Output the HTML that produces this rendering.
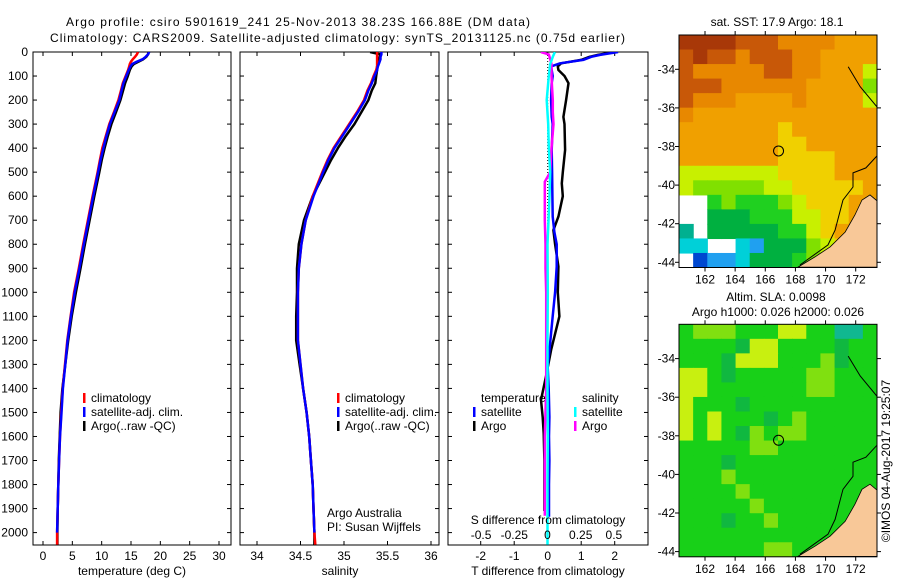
<!DOCTYPE html>
<html><head><meta charset="utf-8"><style>
html,body{margin:0;padding:0;background:#fff;}
svg{display:block;font-family:"Liberation Sans",sans-serif;font-size:12px;}
</style></head><body>
<svg id="fig" width="900" height="580" viewBox="0 0 900 580" xmlns="http://www.w3.org/2000/svg">
<text x="66" y="26" textLength="464">Argo profile: csiro 5901619_241 25-Nov-2013 38.23S 166.88E (DM data)</text>
<text x="50" y="42" textLength="575">Climatology: CARS2009. Satellite-adjusted climatology: synTS_20131125.nc (0.75d earlier)</text>
<g id="g"></g>
</svg>
<script>
// ---------- data ----------
const depthsProf = [0,10,20,30,40,50,60,75,100,130,160,200,250,300,350,400,450,500,600,700,800,900,1000,1100,1200,1300,1400,1500,1600,1700,1800,1900,2000,2050];
const tempClim = [16.2,16.0,15.7,15.3,15.0,14.8,14.7,14.5,14.1,13.6,13.3,12.85,12.1,11.3,10.7,10.1,9.7,9.3,8.45,7.65,6.85,6.1,5.3,4.7,4.15,3.75,3.35,3.1,2.9,2.75,2.6,2.5,2.4,2.4];
const tempSat = [18.1,17.9,17.5,17.0,16.0,15.2,14.9,14.6,14.2,13.7,13.4,13.0,12.2,11.4,10.8,10.3,9.8,9.4,8.55,7.75,6.95,6.2,5.4,4.75,4.2,3.8,3.4,3.15,2.9,2.75,2.6,2.5,2.4,2.4];
const tempArgo = [18.0,17.9,17.6,17.1,16.3,15.5,15.1,14.8,14.45,14.0,13.65,13.2,12.45,11.65,11.05,10.5,10.0,9.6,8.75,7.95,7.15,6.4,5.6,4.9,4.3,3.8,3.3,3.0,2.85,2.7,2.6,2.5,2.45,2.45];
const salClim = [35.38,35.38,35.38,35.38,35.38,35.38,35.38,35.37,35.34,35.31,35.27,35.23,35.15,35.06,34.97,34.88,34.81,34.75,34.64,34.56,34.51,34.48,34.47,34.47,34.47,34.5,34.53,34.57,34.6,34.62,34.64,34.65,34.66,34.67];
const salSat = [35.43,35.43,35.42,35.42,35.41,35.40,35.39,35.38,35.35,35.32,35.28,35.24,35.16,35.07,34.98,34.89,34.82,34.76,34.65,34.56,34.51,34.48,34.47,34.47,34.47,34.5,34.53,34.57,34.6,34.62,34.64,34.65,34.66,34.67];
const salArgo = [35.30,35.42,35.41,35.40,35.40,35.39,35.38,35.38,35.37,35.36,35.32,35.28,35.20,35.12,35.02,34.93,34.85,34.78,34.64,34.54,34.48,34.46,34.46,34.45,34.45,34.49,34.53,34.57,34.6,34.62,34.64,34.65,34.66,34.66];
const depthsTdSat = [0,12,20,33,47,60,100,130,200,270,300,408,500,600,685,750,800,893,1000,1100,1200,1310,1400,1518,1600,1700,1800,1934];
const tDiffSat = [2.1,1.56,1.3,1.06,0.37,0.1,0.15,0.12,0.1,0.12,0.15,0.12,0.13,0.14,0.15,0.2,0.27,0.27,0.22,0.15,0.08,0,0.03,0.05,0.04,0.05,0.04,0.04];
const depthsTdArgo = [0,12,20,33,47,60,75,100,130,200,270,300,408,500,547,600,685,741,800,893,1000,1100,1240,1350,1448,1520,1587,1700,1795,1910];
const tDiffArgo = [2.0,1.5,1.25,1.0,0.4,0.3,0.32,0.5,0.62,0.55,0.47,0.5,0.52,0.45,0.42,0.45,0.32,0.17,0.22,0.32,0.3,0.35,0.1,-0.05,-0.2,-0.15,-0.12,-0.1,-0.1,-0.1];
const depthsSdSat = [0,20,50,100,200,300,400,500,600,800,1000,1200,1400,1600,1800,2050];
const sDiffSat = [0.056,0.04,0.02,0.01,-0.006,0.005,0.01,0.02,0.015,0,0.002,0,0,0.002,0,0];
const depthsSdArgo = [0,10,30,50,100,150,200,250,300,400,500,540,600,700,800,900,1000,1200,1400,1600,1800,1930];
const sDiffArgo = [-0.05,0.01,0.02,0.03,0.03,0.035,0.04,0.04,0.045,0.03,0.02,-0.02,-0.02,-0.02,-0.015,-0.015,-0.01,-0.01,-0.01,-0.02,-0.02,-0.02];
const depthTicks = [0,100,200,300,400,500,600,700,800,900,1000,1100,1200,1300,1400,1500,1600,1700,1800,1900,2000];
const tempTicks = [0,5,10,15,20,25,30];
const salTicks = [34,34.5,35,35.5,36];
const tdTicks = [-2,-1,0,1,2];
const sdTicks = [-0.5,-0.25,0,0.25,0.5];
const sdTickLabels = ["-0.5","-0.25","0","0.25","0.5"];
const latTicks = [-34,-36,-38,-40,-42,-44];
const lonTicks = [162,164,166,168,170,172];
const argoLon = 166.88, argoLat = -38.23;
const sstPalette = {".":null,"1":"#0048d0","2":"#20a0f0","3":"#00d0d8","4":"#00b090","5":"#00b040","6":"#20d020","7":"#80e000","8":"#c8f000","9":"#f0d000","a":"#f0a000","b":"#e88800","c":"#c85808","d":"#a83808"};
const sstGrid = ["ddddcccbbbbaaa","cdccbcccbbaaaa","cbbbbbccbbaaa8","cccbbbbbbaaaa7","cbbbaaaabaaaa8","baaaaaaaaaaaaa","aaaaaaa9aaaaaa","aaaaaaa99aaaaa","aaaaaaa9999aaa","88888889999aaa","8777778899999a","..6766678999aa","..5556668899aa","4.555556689aaa","33..32555789a9",".12235556789.6"];
const slaPalette = {"4":"#10b890","5":"#10b840","6":"#18d018","7":"#80e010","8":"#c8f010"};
const slaGrid = ["67776668866446","66665886666566","66658886667566","88656666677666","88666666677666","86665666666666","86866656766666","86865767766666","66666776666666","66656666666666","66676666666666","66667666666666","66666766666666","66656676666666","66666666666666","66666677666666"];
const landLon = [168.17,169.3,170.3,171.3,171.95,172.42,172.95,173.5,173.5];
const landLat = [-44.25,-43.72,-43.2,-42.43,-41.55,-40.77,-40.51,-40.87,-44.25];
const coastLon = [173.41,172.68,171.82,171.82,171.16,170.63,170.16,168.3];
const coastLat = [-38.49,-39.11,-39.37,-40.1,-40.77,-42.33,-43.1,-44.14];
const neLon = [171.5,172.3,173.4];
const neLat = [-33.87,-34.9,-35.94];

// ---------- helpers ----------
const NS="http://www.w3.org/2000/svg";
const G=document.getElementById('g');
function mk(tag,attrs,parent){const e=document.createElementNS(NS,tag);for(const k in attrs)e.setAttribute(k,attrs[k]);(parent||G).appendChild(e);return e;}
function txt(x,y,s,anchor,parent){const e=mk('text',{x:x,y:y,'text-anchor':anchor||'start'},parent);e.textContent=s;return e;}
const yD=d=>52+d*0.2403;
const xT=t=>43+t*5.867;
const xS=s=>257+(s-34)*87;
const xTd=v=>547.7+v*33.5;
const xSd=v=>547.5+v*132.8;
const P1={l:33,r:231},P2={l:240,r:439},P3={l:448,r:648};
const TOP=52,BOT=545;

const defs=mk('defs',{});
[[P1,'c1'],[P2,'c2'],[P3,'c3']].forEach(([p,id])=>{const c=mk('clipPath',{id:id},defs);mk('rect',{x:p.l,y:TOP,width:p.r-p.l,height:BOT-TOP},c);});

function panelFrame(p,name){
  const r=mk('rect',{x:p.l,y:TOP,width:p.r-p.l,height:BOT-TOP,fill:'#fff',stroke:'#000','stroke-width':1});
  
  
  depthTicks.forEach(d=>{const y=yD(d);mk('line',{x1:p.l,x2:p.l+4,y1:y,y2:y,stroke:'#000'});mk('line',{x1:p.r-4,x2:p.r,y1:y,y2:y,stroke:'#000'});});
}
function xTicks(p,ticks,fx,labels,ly){
  ticks.forEach((t,i)=>{const x=fx(t);mk('line',{x1:x,x2:x,y1:TOP,y2:TOP+4,stroke:'#000'});mk('line',{x1:x,x2:x,y1:BOT-4,y2:BOT,stroke:'#000'});
    if(labels){const e=txt(x,ly,labels[i],'middle');}});
}
function line(ds,vs,fx,color,clip,name){
  const pts=ds.map((d,i)=>fx(vs[i]).toFixed(1)+','+yD(d).toFixed(1)).join(' ');
  const e=mk('polyline',{points:pts,fill:'none',stroke:color,'stroke-width':2.5,'clip-path':'url(#'+clip+')','stroke-linejoin':'round'});
  
  
}
function legendMark(x,y,color){mk('rect',{x:x,y:y-9,width:2.5,height:10,fill:color});}

// ---------- panel 1 ----------
panelFrame(P1,'temperature-panel');
depthTicks.forEach(d=>{const e=txt(28,yD(d)+4,String(d),'end');});
xTicks(P1,tempTicks,xT,tempTicks.map(String),560);
line(depthsProf,tempArgo,xT,'#000','c1','temperature-argo-line');
line(depthsProf,tempClim,xT,'#f00','c1','temperature-climatology-line');
line(depthsProf.slice(0,-1),tempSat.slice(0,-1),xT,'#00f','c1','temperature-satellite-line');
{const e=txt(132,575,'temperature (deg C)','middle');}
[['climatology','#f00',402],['satellite-adj. clim.','#00f',416],['Argo(..raw -QC)','#000',430]].forEach(([s,c,y])=>{legendMark(83,y,c);const e=txt(91,y,s);});

// ---------- panel 2 ----------
panelFrame(P2,'salinity-panel');
xTicks(P2,salTicks,xS,salTicks.map(String),560);
line(depthsProf,salArgo,xS,'#000','c2','salinity-argo-line');
line(depthsProf,salClim,xS,'#f00','c2','salinity-climatology-line');
line(depthsProf.slice(0,-1),salSat.slice(0,-1),xS,'#00f','c2','salinity-satellite-line');
{const e=txt(340,575,'salinity','middle');}
[['climatology','#f00',402],['satellite-adj. clim.','#00f',416],['Argo(..raw -QC)','#000',430]].forEach(([s,c,y])=>{legendMark(337,y,c);const e=txt(345,y,s);});
{const e=txt(327,517,'Argo Australia');}
{const e=txt(327,531,'PI: Susan Wijffels');}

// ---------- panel 3 ----------
panelFrame(P3,'difference-panel');
xTicks(P3,tdTicks,xTd,tdTicks.map(String),560);
mk('line',{x1:xTd(0),x2:xTd(0),y1:TOP,y2:BOT,stroke:'#000','stroke-dasharray':'1,2','stroke-width':1});
line(depthsTdArgo,tDiffArgo,xTd,'#000','c3','t-diff-argo-line');
line(depthsTdSat,tDiffSat,xTd,'#00f','c3','t-diff-satellite-line');
line(depthsSdArgo,sDiffArgo,xSd,'#f0f','c3','s-diff-argo-line');
line(depthsSdSat,sDiffSat,xSd,'#0ff','c3','s-diff-satellite-line');
sdTicks.forEach((t,i)=>{const e=txt(xSd(t),539,sdTickLabels[i],'middle');});
{const e=txt(548,524,'S difference from climatology','middle');}
{const e=txt(548,575,'T difference from climatology','middle');}
{const e=txt(481,402,'temperature');}
{const e=txt(582,402,'salinity');}
[['satellite','#00f',473,416],['Argo','#000',473,430],['satellite','#0ff',574,416],['Argo','#f0f',574,430]].forEach(([s,c,x,y])=>{legendMark(x,y,c);const e=txt(x+8,y,s);});

// ---------- maps ----------
function drawMap(top,grid,pal,name){
  const L=679,R=877,B=top+232.5,W=R-L,H=B-top;
  const lon=v=>705+(v-162)*15.07;
  const lat=v=>top+34.3+(-34-v)*19.3;
  const grp=mk('g',{});
  
  
  const id='m'+Math.round(top);
  const c=mk('clipPath',{id:id},defs);mk('rect',{x:L,y:top,width:W,height:H},c);
  grp.setAttribute('clip-path','url(#'+id+')');
  const rows=grid.length,cols=grid[0].length,cw=W/cols,ch=H/rows;
  grid.forEach((row,r)=>{for(let k=0;k<cols;k++){const col=pal[row[k]];if(!col)continue;
    const cell=mk('rect',{x:(L+k*cw).toFixed(2),y:(top+r*ch).toFixed(2),width:(cw+0.6).toFixed(2),height:(ch+0.6).toFixed(2),fill:col},grp);
    
    }});
  const land=mk('polygon',{points:landLon.map((v,i)=>lon(v).toFixed(1)+','+lat(landLat[i]).toFixed(1)).join(' '),fill:'#f8c898',stroke:'#000','stroke-width':0.8},grp);
  
  
  mk('polyline',{points:coastLon.map((v,i)=>lon(v).toFixed(1)+','+lat(coastLat[i]).toFixed(1)).join(' '),fill:'none',stroke:'#000','stroke-width':1},grp);
  mk('polyline',{points:neLon.map((v,i)=>lon(v).toFixed(1)+','+lat(neLat[i]).toFixed(1)).join(' '),fill:'none',stroke:'#000','stroke-width':1},grp);
  const circ=mk('circle',{cx:lon(argoLon),cy:lat(argoLat),r:5,fill:'none',stroke:'#000','stroke-width':1});
  
  
  mk('rect',{x:L,y:top,width:W,height:H,fill:'none',stroke:'#000'});
  latTicks.forEach(v=>{const y=lat(v);mk('line',{x1:L-4,x2:L,y1:y,y2:y,stroke:'#000'});mk('line',{x1:R,x2:R+4,y1:y,y2:y,stroke:'#000'});
    const e=txt(L-4,y+4,String(v),'end');});
  lonTicks.forEach(v=>{const x=lon(v);mk('line',{x1:x,x2:x,y1:top-4,y2:top,stroke:'#000'});mk('line',{x1:x,x2:x,y1:B,y2:B+4,stroke:'#000'});
    const e=txt(x,B+16,String(v),'middle');});
}
drawMap(35,sstGrid,sstPalette,'sst-map');
drawMap(324.3,slaGrid,slaPalette,'sla-map');
{const e=txt(777,26,'sat. SST: 17.9 Argo: 18.1','middle');}
{const e=txt(776,301,'Altim. SLA: 0.0098','middle');}
{const e=txt(778,316,'Argo h1000: 0.026 h2000: 0.026','middle');}
{const e=txt(0,0,'©IMOS 04-Aug-2017 19:25:07','middle');e.setAttribute('transform','translate(890,461) rotate(-90)');}
</script>
</body></html>
